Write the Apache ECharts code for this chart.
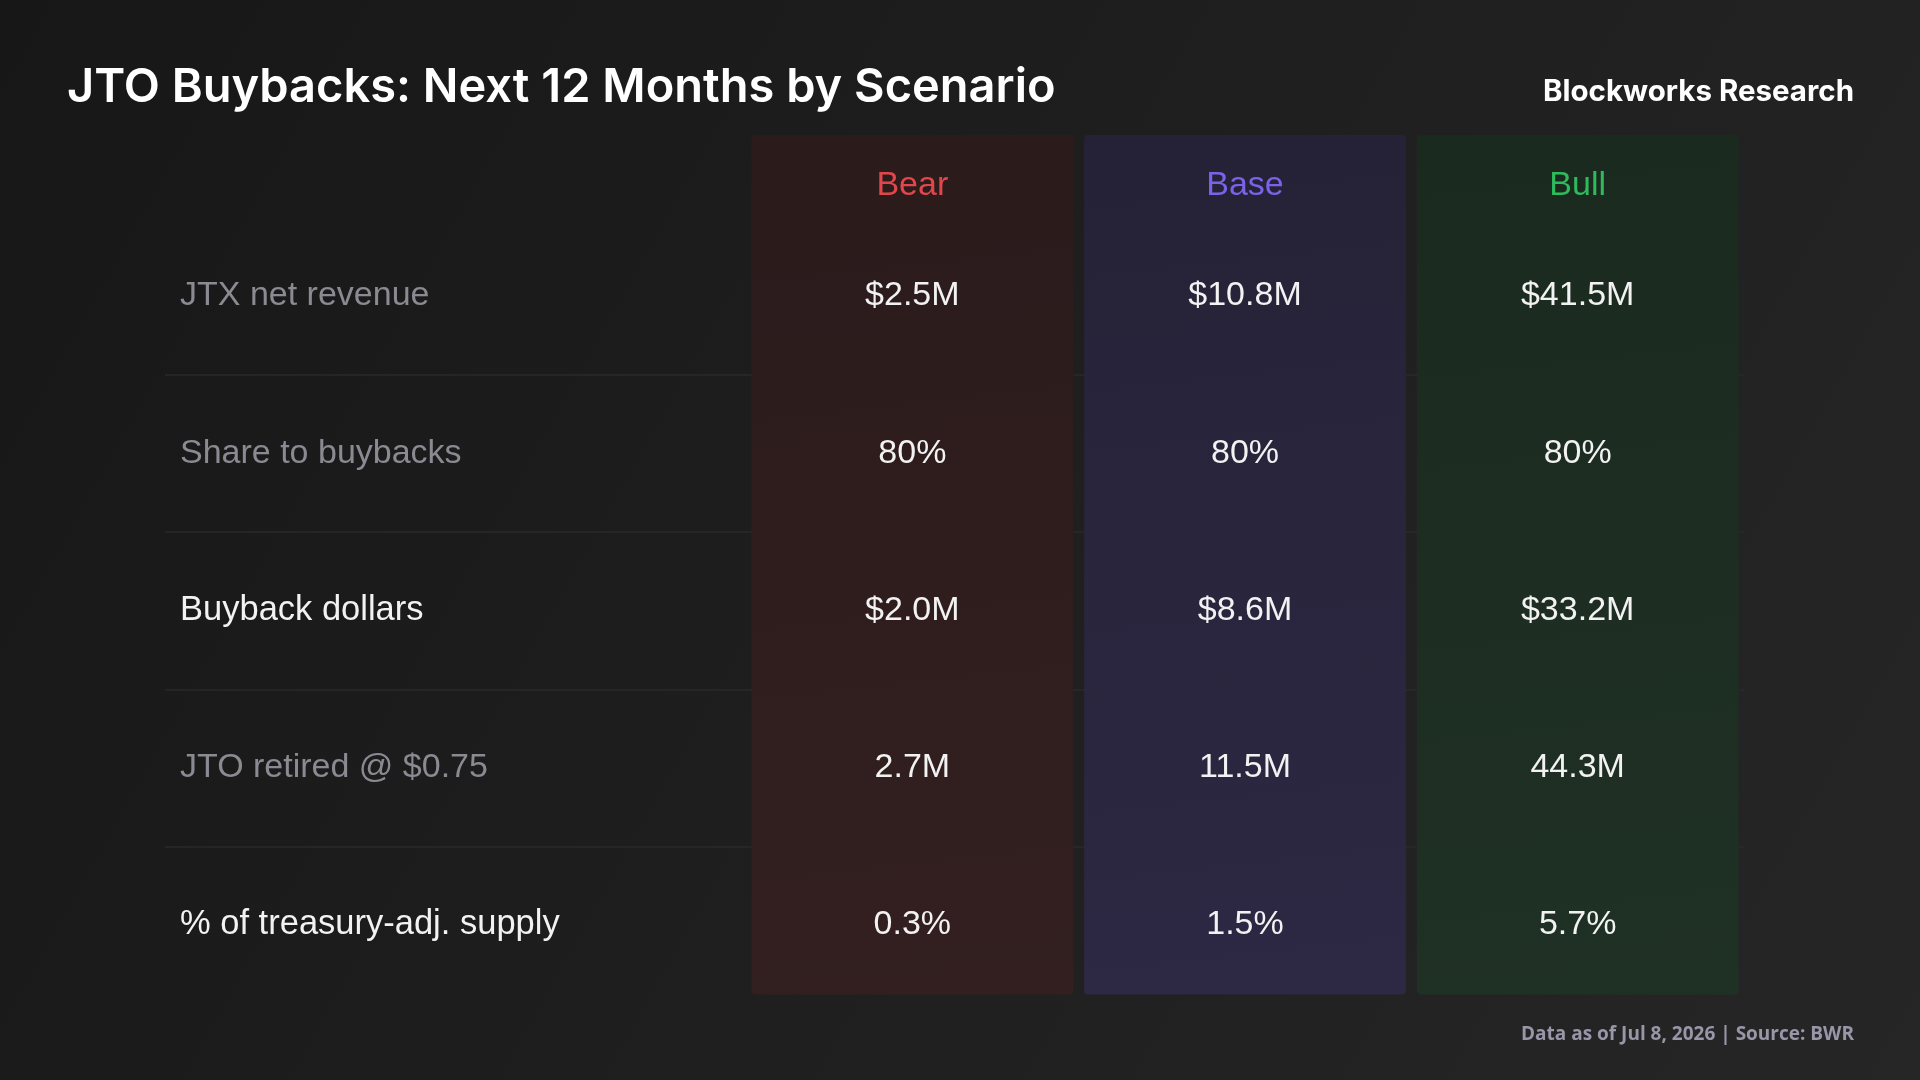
<!DOCTYPE html>
<html>
<head>
<meta charset="utf-8">
<title>JTO Buybacks</title>
<script src="https://cdn.jsdelivr.net/npm/echarts@6/dist/echarts.min.js"></script>
<style>
  html, body { margin: 0; padding: 0; background: #1b1b1b; }
  #chart { width: 1920px; height: 1080px; }
</style>
</head>
<body>
<div id="chart"></div>
<script>
// table data
var scenarios = ['Bear', 'Base', 'Bull'];
var metrics = ['JTX net revenue', 'Share to buybacks', 'Buyback dollars', 'JTO retired @ $0.75', '% of treasury-adj. supply'];
var highlight = [false, false, true, false, true];   // white rows, the rest grey
var bearValues = ['$2.5M', '80%', '$2.0M', '2.7M', '0.3%'];
var baseValues = ['$10.8M', '80%', '$8.6M', '11.5M', '1.5%'];
var bullValues = ['$41.5M', '80%', '$33.2M', '44.3M', '5.7%'];

var headColors = { Bear: '#e0474c', Base: '#7a63e6', Bull: '#2fbb5c' };
var colFill = {
  Bear: ['#2b1b1b', '#331f20'],
  Base: ['#252237', '#2d2843'],
  Bull: ['#1b2a1f', '#1f3024']
};

var valueCells = [];
[bearValues, baseValues, bullValues].forEach(function (vals, c) {
  vals.forEach(function (v, r) { valueCells.push([c, r, v]); });
});

var myChart = echarts.init(document.getElementById('chart'));

var gridTop = 218, rowH = 157.1;

var option = {
  backgroundColor: new echarts.graphic.LinearGradient(0, 0, 1, 1, [
    { offset: 0, color: '#171717' },
    { offset: 1, color: '#262626' }
  ]),
  title: [
    {
      text: 'JTO Buybacks: Next 12 Months by Scenario',
      left: 62, top: 59,
      textStyle: { color: '#ffffff', fontSize: 47, fontWeight: 600, fontFamily: 'Inter' }
    },
    {
      text: 'Blockworks Research',
      right: 61, top: 72,
      textStyle: { color: '#ffffff', fontSize: 29.5, fontWeight: 'bold', fontFamily: 'Inter' }
    },
    {
      text: 'Data as of Jul 8, 2026 | Source: BWR',
      right: 61, top: 1020,
      textStyle: { color: '#9896a8', fontSize: 19, fontWeight: 'bold', fontFamily: 'Open Sans' }
    }
  ],
  grid: [
    { left: 165, top: gridTop, width: 1579, height: rowH * 5 },   // labels + row lines
    { left: 746, top: gridTop, width: 998, height: rowH * 5 }     // scenario columns
  ],
  xAxis: [
    { gridIndex: 0, type: 'value', show: false, min: 0, max: 1 },
    {
      gridIndex: 1, type: 'category', data: scenarios, position: 'top', z: 10,
      axisLine: { show: false }, axisTick: { show: false },
      axisLabel: {
        margin: 32, verticalAlign: 'middle',
        fontSize: 34, fontFamily: 'Liberation Sans',
        color: function (v) { return headColors[v]; }
      }
    }
  ],
  yAxis: [
    {
      gridIndex: 0, type: 'category', data: metrics, inverse: true,
      axisLine: { show: false }, axisTick: { show: false },
      splitLine: { show: true, showMinLine: false, showMaxLine: false, lineStyle: { color: '#2a2a2a', width: 1.5 } },
      axisLabel: {
        inside: true, margin: 15, align: 'left', verticalAlign: 'middle',
        padding: [0, 0, 1, 0],
        fontSize: 34, fontFamily: 'Liberation Sans',
        formatter: function (v, i) { return highlight[i] ? '{w|' + v + '}' : '{g|' + v + '}'; },
        rich: {
          w: { color: '#f2f2f2', fontSize: 34.5, fontFamily: 'Liberation Sans' },
          g: { color: '#8b8a92', fontSize: 34, fontFamily: 'Liberation Sans' }
        }
      }
    },
    {
      gridIndex: 1, type: 'category', data: metrics, inverse: true, show: false
    }
  ],
  series: [
    {
      // column backgrounds
      type: 'custom', xAxisIndex: 1, yAxisIndex: 1, z: 2, silent: true,
      data: scenarios.map(function (s, i) { return [i]; }),
      renderItem: function (params, api) {
        var cs = params.coordSys;
        var cx = api.coord([api.value(0), 0])[0];
        var w = api.size([1, 0])[0] - 11;
        var name = scenarios[api.value(0)];
        return {
          type: 'rect',
          shape: { x: cx - w / 2, y: cs.y - 83, width: w, height: cs.height + 74, r: 4 },
          style: {
            fill: new echarts.graphic.LinearGradient(0, 0, 0.3, 1, [
              { offset: 0, color: colFill[name][0] },
              { offset: 1, color: colFill[name][1] }
            ])
          }
        };
      }
    },
    {
      // cell values
      type: 'custom', xAxisIndex: 1, yAxisIndex: 1, z: 3, silent: true,
      data: valueCells,
      renderItem: function (params, api) {
        var p = api.coord([api.value(0), api.value(1)]);
        return {
          type: 'text',
          style: {
            text: valueCells[params.dataIndex][2],
            x: p[0], y: p[1] - 0.5,
            align: 'center', verticalAlign: 'middle',
            fill: '#f2f2f2', fontSize: 34, fontFamily: 'Liberation Sans'
          }
        };
      }
    }
  ]
};

myChart.setOption(option);
window.onresize = myChart.resize;
</script>
</body>
</html>
